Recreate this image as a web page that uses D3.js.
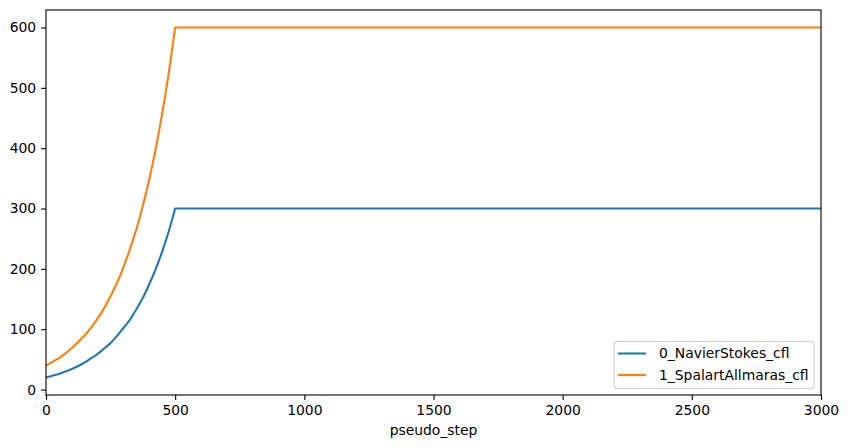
<!DOCTYPE html>
<html>
<head>
<meta charset="utf-8">
<script src="https://cdn.jsdelivr.net/npm/d3@7"></script>
<style>
  html, body { margin: 0; padding: 0; background: #fff; }
  svg { display: block; font-family: "DejaVu Sans", sans-serif; }
</style>
</head>
<body>
<svg id="chart" width="848" height="448"></svg>
<script>
// Data
const steps = [0, 25, 50, 75, 100, 125, 150, 175, 200, 225, 250, 275, 300, 325, 350, 375, 400, 425, 450, 475, 500, 3000];
const navierStokesCfl = [20, 23, 26, 30, 34, 39, 45, 52, 59, 68, 77, 89, 102, 116, 133, 152, 175, 200, 229, 262, 300, 300];
const spalartAllmarasCfl = [40, 46, 52, 60, 69, 79, 90, 103, 118, 135, 155, 177, 203, 233, 266, 305, 349, 400, 458, 524, 600, 600];
const seriesNames = ["0_NavierStokes_cfl", "1_SpalartAllmaras_cfl"];
const seriesColors = ["#1f77b4", "#ff7f0e"];
const xTicks = [0, 500, 1000, 1500, 2000, 2500, 3000];
const yTicks = [0, 100, 200, 300, 400, 500, 600];
const xLabel = "pseudo_step";

(function () {
const svg = d3.select("#chart");
const mL = 46, mR = 821, mT = 10, mB = 395;

const x = d3.scaleLinear().domain([0, 3000]).range([mL, mR]);
const y = d3.scaleLinear().domain([-9, 629]).range([mB, mT]);

const series = [navierStokesCfl, spalartAllmarasCfl];

svg.append("defs").append("clipPath").attr("id", "clip")
  .append("rect").attr("x", mL).attr("y", mT).attr("width", mR - mL).attr("height", mB - mT);

const smooth = d3.line().x(d => x(d[0])).y(d => y(d[1])).curve(d3.curveMonotoneX);
const straight = d3.line().x(d => x(d[0])).y(d => y(d[1]));

const g = svg.append("g").attr("clip-path", "url(#clip)");
series.forEach((vals, i) => {
  const pts = steps.map((s, k) => [s, vals[k]]);
  // ramp part (monotone, strictly increasing) and the plateau part
  let split = pts.length - 1;
  while (split > 0 && pts[split - 1][1] === pts[split][1]) split--;
  const ramp = pts.slice(0, split + 1);
  const flat = pts.slice(split);
  const d = smooth(ramp) + straight(flat).replace(/^M/, "L");
  g.append("path")
    .attr("d", d)
    .attr("fill", "none")
    .attr("stroke", seriesColors[i])
    .attr("stroke-width", 2.1)
    .attr("stroke-linejoin", "round")
    .attr("stroke-linecap", "square");
});

// Axes
const xAxis = d3.axisBottom(x).tickValues(xTicks).tickSize(4.9).tickPadding(4.9).tickFormat(d3.format("d"));
const yAxis = d3.axisLeft(y).tickValues(yTicks).tickSize(4.9).tickPadding(4.9).tickFormat(d3.format("d"));

const gx = svg.append("g").attr("transform", `translate(0,${mB})`).call(xAxis);
const gy = svg.append("g").attr("transform", `translate(${mL},0)`).call(yAxis);
[gx, gy].forEach(a => {
  a.select(".domain").remove();
  a.selectAll(".tick line").attr("stroke", "#000").attr("stroke-width", 1.1);
  a.selectAll(".tick text").attr("fill", "#000").style("font-size", "13.9px").style("font-family", "DejaVu Sans");
});

// Spines
svg.append("rect")
  .attr("x", mL).attr("y", mT).attr("width", mR - mL).attr("height", mB - mT)
  .attr("fill", "none").attr("stroke", "#000").attr("stroke-width", 1.1);

// X label
svg.append("text")
  .attr("x", (mL + mR) / 2).attr("y", 435)
  .attr("text-anchor", "middle")
  .style("font-size", "13.9px")
  .text(xLabel);

// Legend
const lg = svg.append("g");
lg.append("rect")
  .attr("x", 614).attr("y", 341.5).attr("width", 200).attr("height", 47)
  .attr("rx", 3).attr("ry", 3)
  .attr("fill", "#fff").attr("fill-opacity", 0.8)
  .attr("stroke", "#cccccc").attr("stroke-width", 1.1);
seriesNames.forEach((name, i) => {
  const yy = 353.5 + i * 21.5;
  lg.append("line").attr("x1", 618).attr("x2", 646).attr("y1", yy).attr("y2", yy)
    .attr("stroke", seriesColors[i]).attr("stroke-width", 2.1);
  lg.append("text").attr("x", 659).attr("y", yy).attr("dy", "0.35em")
    .style("font-size", "13.9px").text(name);
});
})();
</script>
</body>
</html>
